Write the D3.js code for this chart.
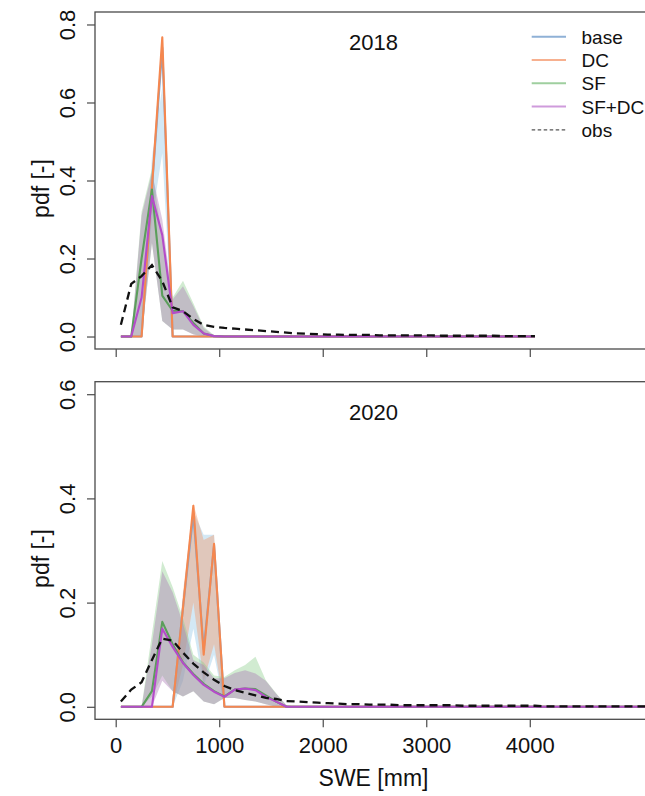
<!DOCTYPE html>
<html>
<head>
<meta charset="utf-8">
<script src="https://cdn.jsdelivr.net/npm/d3@7"></script>
<style>
  html, body { margin: 0; padding: 0; background: #fff; }
  svg { display: block; font-family: "Liberation Sans", Arial, sans-serif; }
</style>
</head>
<body>
<div id="chart"></div>
<script>
// ---- SWE bin centres [mm] ----
const sweBins2018 = [50,150,250,350,450,550,650,750,850,950,1050,1150,1250,1350,1450,1550,1650,1750,1850,1950,2050,2150,2250,2350,2450,2550,2650,2750,2850,2950,3050,3150,3250,3350,3450,3550,3650,3750,3850,3950,4050];
const sweBins2020 = [50,150,250,350,450,550,650,750,850,950,1050,1150,1250,1350,1450,1550,1650,1750,1850,1950,2050,2150,2250,2350,2450,2550,2650,2750,2850,2950,3050,3150,3250,3350,3450,3550,3650,3750,3850,3950,4050,4150,4250,4350,4450,4550,4650,4750,4850,4950,5050,5150];

// ---- 2018: pdf per scenario (line, lower, upper) ----
const base2018   = [0,0,0,0.38,0.74,0,0,0,0,0,0,0,0,0,0,0,0,0,0,0,0,0,0,0,0,0,0,0,0,0,0,0,0,0,0,0,0,0,0,0,0];
const base2018Lo = [0,0,0,0.30,0.47,0,0,0,0,0,0,0,0,0,0,0,0,0,0,0,0,0,0,0,0,0,0,0,0,0,0,0,0,0,0,0,0,0,0,0,0];
const base2018Hi = [0,0,0,0.46,0.64,0,0,0,0,0,0,0,0,0,0,0,0,0,0,0,0,0,0,0,0,0,0,0,0,0,0,0,0,0,0,0,0,0,0,0,0];
const dc2018     = [0,0,0,0.383,0.767,0,0,0,0,0,0,0,0,0,0,0,0,0,0,0,0,0,0,0,0,0,0,0,0,0,0,0,0,0,0,0,0,0,0,0,0];
const dc2018Lo   = [0,0,0,0.36,0.74,0,0,0,0,0,0,0,0,0,0,0,0,0,0,0,0,0,0,0,0,0,0,0,0,0,0,0,0,0,0,0,0,0,0,0,0];
const dc2018Hi   = [0,0,0,0.40,0.77,0,0,0,0,0,0,0,0,0,0,0,0,0,0,0,0,0,0,0,0,0,0,0,0,0,0,0,0,0,0,0,0,0,0,0,0];
const sf2018     = [0,0,0.20,0.377,0.105,0.066,0.065,0.035,0.008,0.001,0,0,0,0,0,0,0,0,0,0,0,0,0,0,0,0,0,0,0,0,0,0,0,0,0,0,0,0,0,0,0];
const sf2018Lo   = [0,0,0,0.24,0.04,0.018,0.018,0.006,0,0,0,0,0,0,0,0,0,0,0,0,0,0,0,0,0,0,0,0,0,0,0,0,0,0,0,0,0,0,0,0,0];
const sf2018Hi   = [0,0,0.32,0.43,0.25,0.10,0.143,0.085,0.026,0.003,0,0,0,0,0,0,0,0,0,0,0,0,0,0,0,0,0,0,0,0,0,0,0,0,0,0,0,0,0,0,0];
const sfdc2018   = [0,0,0.10,0.36,0.26,0.06,0.065,0.03,0.008,0.001,0,0,0,0,0,0,0,0,0,0,0,0,0,0,0,0,0,0,0,0,0,0,0,0,0,0,0,0,0,0,0];
const sfdc2018Lo = [0,0,0,0.24,0.04,0.018,0.018,0.005,0,0,0,0,0,0,0,0,0,0,0,0,0,0,0,0,0,0,0,0,0,0,0,0,0,0,0,0,0,0,0,0,0];
const sfdc2018Hi = [0,0,0.31,0.42,0.30,0.095,0.129,0.078,0.022,0.002,0,0,0,0,0,0,0,0,0,0,0,0,0,0,0,0,0,0,0,0,0,0,0,0,0,0,0,0,0,0,0];
const obs2018    = [0.03,0.135,0.155,0.183,0.142,0.075,0.065,0.045,0.03,0.025,0.022,0.02,0.018,0.016,0.014,0.012,0.01,0.008,0.007,0.006,0.005,0.005,0.004,0.004,0.004,0.003,0.003,0.003,0.003,0.003,0.003,0.002,0.002,0.002,0.002,0.002,0.002,0.001,0.001,0.001,0.001];

// ---- 2020: pdf per scenario (line, lower, upper) ----
const base2020   = [0,0,0,0,0,0,0.19,0.37,0.11,0.31,0,0,0,0,0,0,0,0,0,0,0,0,0,0,0,0,0,0,0,0,0,0,0,0,0,0,0,0,0,0,0,0,0,0,0,0,0,0,0,0,0,0];
const base2020Lo = [0,0,0,0,0,0,0.05,0.15,0.04,0.10,0,0,0,0,0,0,0,0,0,0,0,0,0,0,0,0,0,0,0,0,0,0,0,0,0,0,0,0,0,0,0,0,0,0,0,0,0,0,0,0,0,0];
const base2020Hi = [0,0,0,0,0,0,0.21,0.375,0.33,0.33,0,0,0,0,0,0,0,0,0,0,0,0,0,0,0,0,0,0,0,0,0,0,0,0,0,0,0,0,0,0,0,0,0,0,0,0,0,0,0,0,0,0];
const dc2020     = [0,0,0,0,0,0,0.19,0.386,0.10,0.313,0,0,0,0,0,0,0,0,0,0,0,0,0,0,0,0,0,0,0,0,0,0,0,0,0,0,0,0,0,0,0,0,0,0,0,0,0,0,0,0,0,0];
const dc2020Lo   = [0,0,0,0,0,0,0.08,0.20,0.05,0.12,0,0,0,0,0,0,0,0,0,0,0,0,0,0,0,0,0,0,0,0,0,0,0,0,0,0,0,0,0,0,0,0,0,0,0,0,0,0,0,0,0,0];
const dc2020Hi   = [0,0,0,0,0,0,0.22,0.39,0.32,0.33,0,0,0,0,0,0,0,0,0,0,0,0,0,0,0,0,0,0,0,0,0,0,0,0,0,0,0,0,0,0,0,0,0,0,0,0,0,0,0,0,0,0];
const sf2020     = [0,0,0,0.03,0.163,0.12,0.085,0.063,0.044,0.03,0.02,0.033,0.035,0.034,0.022,0.01,0,0,0,0,0,0,0,0,0,0,0,0,0,0,0,0,0,0,0,0,0,0,0,0,0,0,0,0,0,0,0,0,0,0,0,0];
const sf2020Lo   = [0,0,0,0.02,0.06,0.03,0.02,0.03,0.01,0.005,0.017,0.017,0.013,0.01,0.005,0,0,0,0,0,0,0,0,0,0,0,0,0,0,0,0,0,0,0,0,0,0,0,0,0,0,0,0,0,0,0,0,0,0,0,0,0];
const sf2020Hi   = [0,0,0,0.14,0.28,0.23,0.17,0.10,0.085,0.06,0.057,0.07,0.08,0.096,0.051,0.026,0.003,0,0,0,0,0,0,0,0,0,0,0,0,0,0,0,0,0,0,0,0,0,0,0,0,0,0,0,0,0,0,0,0,0,0,0];
const sfdc2020   = [0,0,0,0,0.15,0.115,0.084,0.061,0.042,0.029,0.019,0.033,0.035,0.032,0.019,0.01,0,0,0,0,0,0,0,0,0,0,0,0,0,0,0,0,0,0,0,0,0,0,0,0,0,0,0,0,0,0,0,0,0,0,0,0];
const sfdc2020Lo = [0,0,0,0,0.05,0.03,0.02,0.03,0.01,0.005,0.017,0.017,0.013,0.01,0.005,0,0,0,0,0,0,0,0,0,0,0,0,0,0,0,0,0,0,0,0,0,0,0,0,0,0,0,0,0,0,0,0,0,0,0,0,0];
const sfdc2020Hi = [0,0,0,0.12,0.26,0.22,0.16,0.09,0.08,0.055,0.055,0.065,0.07,0.064,0.05,0.025,0.003,0,0,0,0,0,0,0,0,0,0,0,0,0,0,0,0,0,0,0,0,0,0,0,0,0,0,0,0,0,0,0,0,0,0,0];
const obs2020    = [0.01,0.033,0.047,0.09,0.131,0.127,0.104,0.083,0.066,0.052,0.04,0.032,0.027,0.022,0.017,0.015,0.011,0.01,0.009,0.008,0.007,0.006,0.005,0.005,0.004,0.004,0.004,0.003,0.003,0.003,0.003,0.003,0.003,0.002,0.002,0.002,0.002,0.002,0.002,0.002,0.002,0.001,0.001,0.001,0.001,0.001,0.001,0.001,0.001,0.001,0.001,0.001];

// ---- axes & legend text ----
const xTickValues = [0,1000,2000,3000,4000];
const yTicks2018  = [0,0.2,0.4,0.6,0.8];
const yTicks2020  = [0,0.2,0.4,0.6];
const scenarioNames = ["base","DC","SF","SF+DC"];
const obsName = "obs";
const panelTitles = ["2018","2020"];

// ---- styling ----
const lineColor   = {"base":"#7fa8d6","DC":"#f5874f","SF":"#5b9e5b","SF+DC":"#b44cc9"};
const bandColor   = {"base":"rgba(140,195,230,0.38)","DC":"rgba(246,150,100,0.40)","SF":"rgba(140,205,140,0.40)","SF+DC":"rgba(170,120,180,0.40)"};
const legendColor = {"base":"#8fb1d6","DC":"#f7b08f","SF":"#9fcf9f","SF+DC":"#cf9bdc"};

const W = 645, H = 796;
const plotLeft = 95, plotRight = 654;

const svg = d3.select("#chart").append("svg")
  .attr("width", W).attr("height", H).attr("viewBox", `0 0 ${W} ${H}`);

// R-style axis range: limits padded by 4% each side
function padded(lo, hi) { const e = (hi - lo) * 0.04; return [lo - e, hi + e]; }

const x = d3.scaleLinear().domain(padded(0, 5000)).range([plotLeft, plotRight]);

const panels = [
  {
    title: panelTitles[0], top: 12, bottom: 349, yMax: 0.8, yTicks: yTicks2018,
    bins: sweBins2018, obs: obs2018, xLabels: false, legend: true,
    series: {
      "base":  {mid: base2018, lo: base2018Lo, hi: base2018Hi},
      "DC":    {mid: dc2018,   lo: dc2018Lo,   hi: dc2018Hi},
      "SF":    {mid: sf2018,   lo: sf2018Lo,   hi: sf2018Hi},
      "SF+DC": {mid: sfdc2018, lo: sfdc2018Lo, hi: sfdc2018Hi}
    }
  },
  {
    title: panelTitles[1], top: 381.7, bottom: 719.3, yMax: 0.6, yTicks: yTicks2020,
    bins: sweBins2020, obs: obs2020, xLabels: true, legend: false,
    series: {
      "base":  {mid: base2020, lo: base2020Lo, hi: base2020Hi},
      "DC":    {mid: dc2020,   lo: dc2020Lo,   hi: dc2020Hi},
      "SF":    {mid: sf2020,   lo: sf2020Lo,   hi: sf2020Hi},
      "SF+DC": {mid: sfdc2020, lo: sfdc2020Lo, hi: sfdc2020Hi}
    }
  }
];

const axisColor = "#4a4a4a";

panels.forEach((p, pi) => {
  const y = d3.scaleLinear().domain(padded(0, p.yMax)).range([p.bottom, p.top]);
  const clipId = "clip" + pi;
  svg.append("clipPath").attr("id", clipId).append("rect")
    .attr("x", plotLeft).attr("y", p.top)
    .attr("width", plotRight - plotLeft).attr("height", p.bottom - p.top);

  const g = svg.append("g").attr("clip-path", `url(#${clipId})`);

  // uncertainty ribbons
  scenarioNames.forEach(name => {
    const s = p.series[name];
    const area = d3.area()
      .x((d, i) => x(p.bins[i]))
      .y0((d, i) => y(s.lo[i]))
      .y1((d, i) => y(s.hi[i]));
    g.append("path").datum(s.mid).attr("d", area)
      .attr("fill", bandColor[name]).attr("stroke", "none");
  });

  // scenario pdf lines
  scenarioNames.forEach(name => {
    const s = p.series[name];
    const line = d3.line().x((d, i) => x(p.bins[i])).y(d => y(d));
    g.append("path").datum(s.mid).attr("d", line)
      .attr("fill", "none").attr("stroke", lineColor[name])
      .attr("stroke-width", 2.1).attr("stroke-linejoin", "round");
  });

  // observed pdf
  const obsLine = d3.line().x((d, i) => x(p.bins[i])).y(d => y(d));
  g.append("path").datum(p.obs).attr("d", obsLine)
    .attr("fill", "none").attr("stroke", "#111")
    .attr("stroke-width", 2.3).attr("stroke-dasharray", "8,5");

  // plot frame
  svg.append("rect")
    .attr("x", plotLeft).attr("y", p.top)
    .attr("width", plotRight - plotLeft).attr("height", p.bottom - p.top)
    .attr("fill", "none").attr("stroke", axisColor).attr("stroke-width", 1.3);

  // y axis
  const ya = svg.append("g").attr("transform", `translate(${plotLeft},0)`)
    .call(d3.axisLeft(y).tickValues(p.yTicks).tickSize(8).tickFormat(d3.format(".1f")));
  ya.select(".domain").remove();
  ya.selectAll(".tick line").attr("stroke", axisColor).attr("stroke-width", 1.2);
  ya.selectAll(".tick text")
    .attr("x", null).attr("dy", null)
    .attr("text-anchor", "middle")
    .attr("transform", "translate(-19.6,0) rotate(-90)")
    .attr("fill", "#111").style("font-size", "22px");

  // x axis
  const xa = svg.append("g").attr("transform", `translate(0,${p.bottom})`)
    .call(d3.axisBottom(x).tickValues(xTickValues).tickSize(8).tickPadding(10)
      .tickFormat(p.xLabels ? d3.format("d") : () => ""));
  xa.select(".domain").remove();
  xa.selectAll(".tick line").attr("stroke", axisColor).attr("stroke-width", 1.2);
  xa.selectAll(".tick text").attr("fill", "#111").style("font-size", "22px");

  // panel title
  svg.append("text")
    .attr("x", (plotLeft + plotRight) / 2 - 1).attr("y", p.top + 38)
    .attr("text-anchor", "middle").style("font-size", "22px").attr("fill", "#111")
    .text(p.title);

  // y label
  const cy = (p.top + p.bottom) / 2 + 8;
  svg.append("text")
    .attr("transform", `translate(49,${cy}) rotate(-90)`)
    .attr("text-anchor", "middle").style("font-size", "23px").attr("fill", "#111")
    .text("pdf [-]");

  // legend
  if (p.legend) {
    const rows = scenarioNames.concat([obsName]);
    const lg = svg.append("g");
    rows.forEach((name, i) => {
      const ry = 36.7 + i * 23.3;
      const isObs = name === obsName;
      lg.append("line")
        .attr("x1", 531.7).attr("x2", 566).attr("y1", ry).attr("y2", ry)
        .attr("stroke", isObs ? "#555" : legendColor[name])
        .attr("stroke-width", isObs ? 1.3 : 2)
        .attr("stroke-dasharray", isObs ? "3.5,2.5" : null);
      lg.append("text")
        .attr("x", 581.5).attr("y", ry + 7)
        .style("font-size", "19px").attr("fill", "#111")
        .text(name);
    });
  }
});

// x label
svg.append("text")
  .attr("x", (plotLeft + plotRight) / 2 - 1).attr("y", 786)
  .attr("text-anchor", "middle").style("font-size", "23px").attr("fill", "#111")
  .text("SWE [mm]");
</script>
</body>
</html>
